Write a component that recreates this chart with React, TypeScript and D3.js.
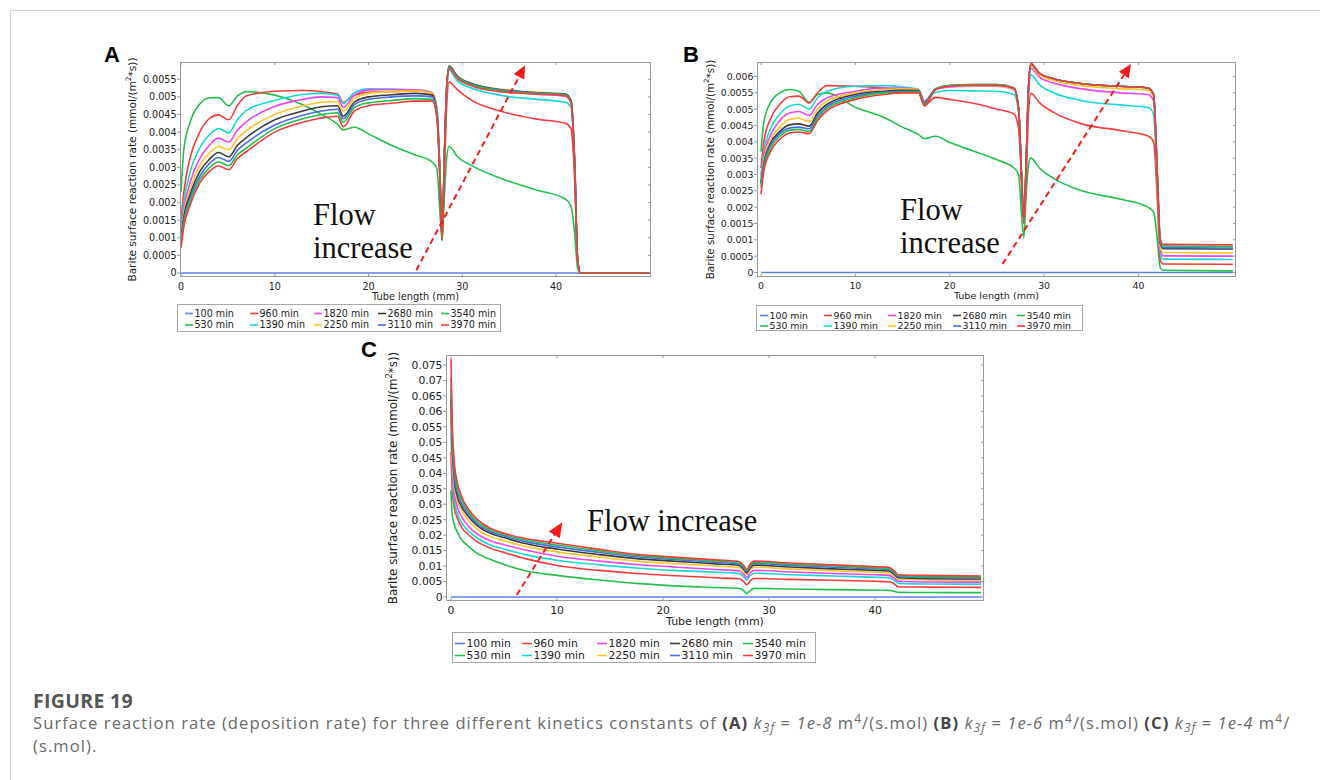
import React from 'react';
import * as d3 from 'd3';

// ---------- DATA (rates in units of 1e-3 mmol/(m^2*s)) ----------
const TIMES = ['100 min', '530 min', '960 min', '1390 min', '1820 min', '2250 min', '2680 min', '3110 min', '3540 min', '3970 min'];
const COLORS = ['#5b80e8', '#22bf4c', '#f23c3c', '#19d6d6', '#ee45ee', '#ffc42a', '#3c3c3c', '#476ce8', '#22bf4c', '#f23c3c'];

const X_AB = [0, 0.3, 1, 2, 3, 4, 5.1, 6, 7, 10, 13, 15, 16.7, 17.3, 18.5, 20, 22.5, 25, 26.8, 27.3, 27.6, 27.85, 28.1, 28.35, 28.6, 29.5, 31, 34, 38, 41, 41.6, 42, 42.3, 42.6, 50];

const A_100 = [0, 0, 0, 0, 0, 0, 0, 0, 0, 0, 0, 0, 0, 0, 0, 0, 0, 0, 0, 0, 0, 0, 0, 0, 0, 0, 0, 0, 0, 0, 0, 0, 0, 0, 0];
const A_530 = [2.3, 3.5, 4.3, 4.8, 4.97, 4.98, 4.75, 5.02, 5.15, 5.05, 4.78, 4.5, 4.22, 4.06, 4.14, 3.95, 3.62, 3.35, 3.15, 2.95, 1.8, 0.92, 2.2, 3.3, 3.6, 3.3, 3.05, 2.7, 2.35, 2.1, 1.9, 1.1, 0.15, 0, 0];
const A_960 = [1.5, 2.3, 3.3, 4.0, 4.38, 4.49, 4.35, 4.75, 5.03, 5.16, 5.18, 5.15, 5.08, 4.85, 5.05, 5.13, 5.15, 5.17, 5.1, 4.6, 3.0, 1.2, 2.8, 4.8, 5.42, 5.2, 4.9, 4.6, 4.37, 4.25, 4.1, 2.6, 0.4, 0, 0];
const A_1390 = [1.3, 2.0, 2.9, 3.55, 3.92, 4.1, 3.98, 4.35, 4.62, 4.9, 5.07, 5.1, 5.05, 4.82, 5.12, 5.23, 5.22, 5.2, 5.12, 4.65, 3.0, 1.0, 3.2, 5.2, 5.75, 5.45, 5.25, 5.05, 4.93, 4.85, 4.7, 3.0, 0.4, 0, 0];
const A_1820 = [1.2, 1.8, 2.6, 3.25, 3.62, 3.83, 3.72, 4.05, 4.3, 4.73, 4.93, 5.0, 4.98, 4.7, 5.05, 5.2, 5.21, 5.2, 5.12, 4.65, 3.0, 1.0, 3.3, 5.3, 5.8, 5.55, 5.35, 5.18, 5.08, 5.02, 4.85, 3.1, 0.4, 0, 0];
const A_2250 = [1.1, 1.7, 2.4, 3.05, 3.4, 3.59, 3.5, 3.82, 4.05, 4.5, 4.75, 4.85, 4.87, 4.6, 4.95, 5.1, 5.15, 5.17, 5.1, 4.6, 3.0, 1.0, 3.4, 5.35, 5.88, 5.6, 5.38, 5.22, 5.13, 5.08, 4.9, 3.1, 0.4, 0, 0];
const A_2680 = [1.0, 1.6, 2.25, 2.88, 3.22, 3.42, 3.3, 3.62, 3.85, 4.35, 4.6, 4.72, 4.75, 4.45, 4.85, 5.0, 5.06, 5.1, 5.05, 4.55, 2.9, 0.95, 3.4, 5.35, 5.87, 5.58, 5.38, 5.21, 5.12, 5.08, 4.9, 3.1, 0.4, 0, 0];
const A_3110 = [0.92, 1.5, 2.15, 2.75, 3.1, 3.28, 3.17, 3.48, 3.7, 4.2, 4.48, 4.6, 4.65, 4.38, 4.78, 4.93, 5.0, 5.03, 5.0, 4.5, 2.9, 0.95, 3.4, 5.33, 5.85, 5.57, 5.37, 5.2, 5.11, 5.07, 4.88, 3.1, 0.4, 0, 0];
const A_3540 = [0.85, 1.4, 2.05, 2.65, 2.98, 3.15, 3.05, 3.35, 3.55, 4.1, 4.38, 4.5, 4.55, 4.28, 4.7, 4.83, 4.9, 4.95, 4.93, 4.45, 2.85, 0.95, 3.35, 5.3, 5.83, 5.55, 5.35, 5.18, 5.1, 5.05, 4.86, 3.05, 0.4, 0, 0];
const A_3970 = [0.72, 1.3, 1.95, 2.55, 2.88, 3.04, 2.93, 3.25, 3.45, 4.0, 4.28, 4.4, 4.45, 4.15, 4.6, 4.75, 4.82, 4.88, 4.88, 4.4, 2.8, 0.95, 3.3, 5.25, 5.8, 5.52, 5.32, 5.15, 5.08, 5.03, 4.84, 3.0, 0.4, 0, 0];

const B_100 = [0, 0, 0, 0, 0, 0, 0, 0, 0, 0, 0, 0, 0, 0, 0, 0, 0, 0, 0, 0, 0, 0, 0, 0, 0, 0, 0, 0, 0, 0, 0, 0, 0, 0, 0];
const B_530 = [3.7, 4.6, 5.2, 5.5, 5.6, 5.55, 5.21, 5.45, 5.5, 5.06, 4.75, 4.45, 4.22, 4.1, 4.17, 3.98, 3.72, 3.45, 3.2, 3.0, 1.8, 1.06, 2.4, 3.3, 3.5, 3.2, 2.88, 2.5, 2.25, 2.0, 1.85, 1.0, 0.15, 0.07, 0.05];
const B_960 = [3.2, 4.0, 4.7, 5.15, 5.38, 5.4, 5.19, 5.5, 5.72, 5.7, 5.65, 5.58, 5.5, 5.12, 5.36, 5.3, 5.18, 5.0, 4.85, 4.4, 2.8, 1.5, 2.8, 4.9, 5.48, 5.2, 4.9, 4.55, 4.35, 4.18, 4.0, 2.2, 0.4, 0.26, 0.25];
const B_1390 = [3.0, 3.7, 4.4, 4.85, 5.1, 5.15, 5.0, 5.35, 5.55, 5.7, 5.72, 5.68, 5.6, 5.25, 5.52, 5.57, 5.56, 5.55, 5.45, 4.9, 3.0, 1.6, 3.2, 5.4, 6.05, 5.75, 5.5, 5.26, 5.13, 5.05, 4.85, 2.6, 0.6, 0.41, 0.4];
const B_1820 = [2.9, 3.55, 4.2, 4.65, 4.88, 4.93, 4.81, 5.15, 5.35, 5.55, 5.65, 5.65, 5.6, 5.25, 5.6, 5.68, 5.7, 5.7, 5.6, 5.0, 3.0, 1.6, 3.3, 5.6, 6.25, 5.98, 5.8, 5.62, 5.5, 5.45, 5.25, 2.8, 0.7, 0.51, 0.5];
const B_2250 = [2.8, 3.45, 4.05, 4.45, 4.68, 4.72, 4.62, 5.0, 5.25, 5.5, 5.6, 5.62, 5.6, 5.22, 5.62, 5.7, 5.72, 5.72, 5.62, 5.0, 3.0, 1.6, 3.35, 5.65, 6.32, 6.05, 5.88, 5.72, 5.63, 5.58, 5.38, 2.9, 0.8, 0.61, 0.6];
const B_2680 = [2.75, 3.35, 3.95, 4.32, 4.52, 4.55, 4.48, 4.88, 5.15, 5.45, 5.55, 5.58, 5.57, 5.2, 5.62, 5.72, 5.74, 5.74, 5.65, 5.0, 3.0, 1.6, 3.4, 5.7, 6.38, 6.1, 5.93, 5.78, 5.7, 5.65, 5.45, 2.95, 0.9, 0.73, 0.72];
const B_3110 = [2.7, 3.3, 3.88, 4.25, 4.42, 4.45, 4.4, 4.8, 5.08, 5.4, 5.52, 5.55, 5.55, 5.18, 5.62, 5.72, 5.75, 5.75, 5.65, 5.0, 3.0, 1.6, 3.4, 5.7, 6.38, 6.1, 5.93, 5.78, 5.7, 5.65, 5.45, 2.95, 0.95, 0.76, 0.75];
const B_3540 = [2.6, 3.2, 3.8, 4.17, 4.35, 4.38, 4.32, 4.72, 5.02, 5.35, 5.5, 5.52, 5.53, 5.15, 5.62, 5.72, 5.75, 5.75, 5.65, 5.0, 3.0, 1.6, 3.4, 5.7, 6.38, 6.1, 5.93, 5.78, 5.7, 5.65, 5.45, 2.95, 1.0, 0.81, 0.8];
const B_3970 = [2.4, 3.1, 3.7, 4.08, 4.27, 4.3, 4.25, 4.65, 4.95, 5.3, 5.45, 5.5, 5.5, 5.1, 5.6, 5.7, 5.73, 5.73, 5.65, 5.0, 3.0, 1.6, 3.4, 5.7, 6.4, 6.1, 5.93, 5.78, 5.7, 5.65, 5.45, 2.95, 1.05, 0.86, 0.85];

const X_C = [0, 0.1, 0.3, 0.6, 1, 1.6, 2.5, 3.7, 5, 7, 10, 14, 17.5, 21, 25, 27.2, 27.6, 27.9, 28.2, 28.6, 32, 36, 40, 41.3, 41.8, 42.2, 45, 50];
const C_100 = [0, 0, 0, 0, 0, 0, 0, 0, 0, 0, 0, 0, 0, 0, 0, 0, 0, 0, 0, 0, 0, 0, 0, 0, 0, 0, 0, 0];
const C_530 = [34.5, 27, 23.5, 21, 18.5, 16.5, 14, 12.2, 10.5, 8.5, 7.0, 5.5, 4.4, 3.6, 3.05, 2.75, 2.1, 1.1, 2.0, 2.8, 2.6, 2.4, 2.2, 2.15, 1.85, 1.5, 1.45, 1.4];
const C_960 = [47, 36, 29, 25.5, 22.5, 20.3, 17.8, 15.8, 14.4, 12.4, 10.2, 8.6, 7.6, 6.9, 6.2, 5.9, 5.0, 4.0, 5.1, 6.0, 5.7, 5.4, 5.1, 4.95, 4.3, 3.3, 3.2, 3.1];
const C_1390 = [55, 41, 31.5, 27, 24, 21.5, 19, 16.8, 15.5, 13.7, 11.9, 10.4, 9.4, 8.6, 8.0, 7.55, 6.6, 5.5, 6.8, 7.7, 7.2, 6.8, 6.4, 6.2, 5.5, 4.4, 4.2, 4.15];
const C_1820 = [58, 44, 34, 29, 26, 23, 20.3, 18.2, 16.9, 15.2, 13.2, 11.6, 10.5, 9.7, 8.9, 8.4, 7.4, 6.3, 7.7, 8.6, 8.1, 7.6, 7.2, 7.0, 6.2, 5.1, 4.85, 4.8];
const C_2250 = [61, 47, 36.5, 31, 28, 25, 21.8, 19.6, 18.2, 16.4, 14.6, 12.9, 11.6, 10.8, 10.0, 9.5, 8.4, 7.2, 8.7, 9.6, 9.1, 8.5, 8.0, 7.8, 6.9, 5.8, 5.5, 5.4];
const C_2680 = [64, 50, 38.5, 32.5, 29.2, 26.2, 23, 20.6, 19.2, 17.3, 15.5, 13.7, 12.4, 11.6, 10.7, 10.2, 9.0, 7.8, 9.3, 10.3, 9.7, 9.1, 8.6, 8.4, 7.4, 6.2, 5.9, 5.8];
const C_3110 = [67, 52, 40, 34, 30.3, 27, 23.6, 21.2, 19.7, 17.9, 16.2, 14.4, 13.0, 12.1, 11.2, 10.6, 9.4, 8.2, 9.8, 10.8, 10.2, 9.6, 9.1, 8.9, 7.8, 6.6, 6.3, 6.2];
const C_3540 = [71, 55, 42, 35.5, 31.5, 27.8, 24.3, 21.7, 20.2, 18.4, 16.8, 14.9, 13.4, 12.5, 11.6, 11.0, 9.8, 8.6, 10.1, 11.2, 10.6, 10.0, 9.4, 9.2, 8.1, 6.9, 6.6, 6.5];
const C_3970 = [77, 58, 44, 37, 32.5, 28.6, 25, 22.2, 20.6, 18.9, 17.4, 15.4, 13.8, 12.9, 12.0, 11.4, 10.2, 8.9, 10.5, 11.6, 11.0, 10.4, 9.8, 9.6, 8.5, 7.2, 7.0, 6.8];

const X_TICKS = [0, 10, 20, 30, 40];
const A_YTICKS = [0, 0.5, 1, 1.5, 2, 2.5, 3, 3.5, 4, 4.5, 5, 5.5];
const A_YLABELS = ['0', '0.0005', '0.001', '0.0015', '0.002', '0.0025', '0.003', '0.0035', '0.004', '0.0045', '0.005', '0.0055'];
const B_YTICKS = [0, 0.5, 1, 1.5, 2, 2.5, 3, 3.5, 4, 4.5, 5, 5.5, 6];
const B_YLABELS = ['0', '0.0005', '0.001', '0.0015', '0.002', '0.0025', '0.003', '0.0035', '0.004', '0.0045', '0.005', '0.0055', '0.006'];
const C_YTICKS = [0, 5, 10, 15, 20, 25, 30, 35, 40, 45, 50, 55, 60, 65, 70, 75];
const C_YLABELS = ['0', '0.005', '0.01', '0.015', '0.02', '0.025', '0.03', '0.035', '0.04', '0.045', '0.05', '0.055', '0.06', '0.065', '0.07', '0.075'];

// arrows in data coordinates: [x0, y0, x1, y1]
const A_ARROW = [25.1, 0.08, 36.7, 5.9];
const B_ARROW = [25.6, 0.26, 39.2, 6.38];
const C_ARROW = [6.2, 0.65, 10.5, 24.2];

const FONT = '"DejaVu Sans", Verdana, sans-serif';
const SERIF = '"Liberation Serif", "Times New Roman", serif';

type Cfg = {
  id: string;
  x: number[];
  series: number[][];
  box: [number, number, number, number];
  xPx: [number, number];
  yPx: [number, number, number];
  yTicks: number[];
  yLabels: string[];
  fs: number;
  ylabelX: number;
  xLabelY: number;
  xTitleY: number;
  legendBox: [number, number, number, number];
  legendCols: number[];
  legendRows: number[];
  seg: number;
  letter: string;
  letterPos: [number, number];
  flow: { text: string; x: number; y: number }[];
  arrow: number[];
  head: [number, number];
};

function Panel({ c }: { c: Cfg }) {
  const [L, T, R, Bt] = c.box;
  const xs = d3.scaleLinear().domain([0, 40]).range(c.xPx);
  const ys = d3.scaleLinear().domain([0, c.yPx[1]]).range([c.yPx[0], c.yPx[2]]);
  const line = d3
    .line<number>()
    .x((_, i) => xs(c.x[i]))
    .y((d) => ys(d))
    .curve(d3.curveMonotoneX);
  const axisColor = '#9a9a9a';
  const [ax0, ay0, ax1, ay1] = c.arrow;
  const p0 = [xs(ax0), ys(ay0)];
  const p1 = [xs(ax1), ys(ay1)];
  const ang = Math.atan2(p1[1] - p0[1], p1[0] - p0[0]);
  const [hl, hw] = c.head;
  const base = [p1[0] - hl * Math.cos(ang), p1[1] - hl * Math.sin(ang)];
  const nx = -Math.sin(ang), ny = Math.cos(ang);
  const tri = `M${p1[0]},${p1[1]} L${base[0] + nx * hw / 2},${base[1] + ny * hw / 2} L${base[0] - nx * hw / 2},${base[1] - ny * hw / 2} Z`;
  const fs = c.fs;
  const lfs = fs * 1.1;
  const cy = (T + Bt) / 2;
  return (
    <g fontFamily={FONT}>
      <defs>
        <clipPath id={`clip-${c.id}`}>
          <rect x={L} y={T} width={R - L} height={Bt - T} />
        </clipPath>
      </defs>
      <rect x={L} y={T} width={R - L} height={Bt - T} fill="#fff" stroke="none" />
      <g clipPath={`url(#clip-${c.id})`} fill="none" strokeWidth={1.6} strokeLinejoin="round">
        {c.series.map((s, i) => (
          <path key={i} d={line(s) || ''} stroke={COLORS[i]} />
        ))}
      </g>
      <rect x={L + 0.5} y={T + 0.5} width={R - L - 1} height={Bt - T - 1} fill="none" stroke={axisColor} strokeWidth={1} />
      {c.yTicks.map((t, i) => (
        <g key={'y' + i}>
          <line x1={L - 3} x2={L} y1={ys(t)} y2={ys(t)} stroke={axisColor} />
          <line x1={R - 3} x2={R} y1={ys(t)} y2={ys(t)} stroke={axisColor} />
          <text x={L - 3.5} y={ys(t) + fs * 0.36} textAnchor="end" fontSize={fs} fill="#222">
            {c.yLabels[i]}
          </text>
        </g>
      ))}
      {X_TICKS.map((t) => (
        <g key={'x' + t}>
          <line x1={xs(t)} x2={xs(t)} y1={Bt - 3} y2={Bt} stroke={axisColor} />
          <line x1={xs(t)} x2={xs(t)} y1={T} y2={T + 3} stroke={axisColor} />
          <text x={xs(t)} y={c.xLabelY} textAnchor="middle" fontSize={fs} fill="#222">
            {t}
          </text>
        </g>
      ))}
      <text x={(L + R) / 2} y={c.xTitleY} textAnchor="middle" fontSize={fs * 1.02} fill="#222">
        Tube length (mm)
      </text>
      <text transform={`translate(${c.ylabelX},${cy}) rotate(-90)`} textAnchor="middle" fontSize={lfs} fill="#222" dominantBaseline="central">
        Barite surface reaction rate (mmol/(m
        <tspan fontSize={lfs * 0.7} dy={-lfs * 0.38}>2</tspan>
        <tspan dy={lfs * 0.38}>*s))</tspan>
      </text>
      {c.flow.map((f, i) => (
        <text key={'f' + i} x={f.x} y={f.y} fontFamily={SERIF} fontSize={30.5} fill="#111">
          {f.text}
        </text>
      ))}
      <line x1={p0[0]} y1={p0[1]} x2={base[0]} y2={base[1]} stroke="#f01c1c" strokeWidth={2} strokeDasharray="6,4" />
      <path d={tri} fill="#f01c1c" />
      <rect
        x={c.legendBox[0] + 0.5}
        y={c.legendBox[1] + 0.5}
        width={c.legendBox[2] - c.legendBox[0]}
        height={c.legendBox[3] - c.legendBox[1]}
        fill="#fff"
        stroke="#a8a8a8"
      />
      {TIMES.map((name, i) => {
        const col = Math.floor(i / 2);
        const row = i % 2;
        const lx = c.legendCols[col];
        const ly = c.legendRows[row];
        return (
          <g key={'l' + i}>
            <line x1={lx} x2={lx + c.seg} y1={ly} y2={ly} stroke={COLORS[i]} strokeWidth={1.6} />
            <text x={lx + c.seg + 1.5} y={ly + fs * 0.36} fontSize={fs} fill="#222">
              {name}
            </text>
          </g>
        );
      })}
      <text x={c.letterPos[0]} y={c.letterPos[1]} fontFamily='"Liberation Sans", Arial, sans-serif' fontWeight="bold" fontSize={22} fill="#000">
        {c.letter}
      </text>
    </g>
  );
}

const PANEL_A: Cfg = {
  id: 'a',
  x: X_AB,
  series: [A_100, A_530, A_960, A_1390, A_1820, A_2250, A_2680, A_3110, A_3540, A_3970],
  box: [180, 62, 651, 277],
  xPx: [181, 556],
  yPx: [273, 5.5, 79.3],
  yTicks: A_YTICKS,
  yLabels: A_YLABELS,
  fs: 9.6,
  ylabelX: 132,
  xLabelY: 290,
  xTitleY: 299.5,
  legendBox: [177, 304, 500, 331],
  legendCols: [185, 250, 314, 378, 441],
  legendRows: [313.5, 325],
  seg: 8,
  letter: 'A',
  letterPos: [104, 62],
  flow: [
    { text: 'Flow', x: 313, y: 225 },
    { text: 'increase', x: 313, y: 258 },
  ],
  arrow: A_ARROW,
  head: [13, 12],
};

const PANEL_B: Cfg = {
  id: 'b',
  x: X_AB,
  series: [B_100, B_530, B_960, B_1390, B_1820, B_2250, B_2680, B_3110, B_3540, B_3970],
  box: [757, 62, 1236, 277],
  xPx: [761, 1138.5],
  yPx: [272.5, 6, 76.5],
  yTicks: B_YTICKS,
  yLabels: B_YLABELS,
  fs: 9.4,
  ylabelX: 710,
  xLabelY: 289,
  xTitleY: 299,
  legendBox: [756, 305, 1082, 330],
  legendCols: [760, 824, 888, 953, 1017],
  legendRows: [315.5, 326],
  seg: 8,
  letter: 'B',
  letterPos: [683, 62],
  flow: [
    { text: 'Flow', x: 900, y: 220 },
    { text: 'increase', x: 900, y: 253 },
  ],
  arrow: B_ARROW,
  head: [13, 12],
};

const PANEL_C: Cfg = {
  id: 'c',
  x: X_C,
  series: [C_100, C_530, C_960, C_1390, C_1820, C_2250, C_2680, C_3110, C_3540, C_3970],
  box: [446, 355, 984, 601],
  xPx: [451, 875],
  yPx: [597, 75, 365],
  yTicks: C_YTICKS,
  yLabels: C_YLABELS,
  fs: 10.8,
  ylabelX: 393,
  xLabelY: 614,
  xTitleY: 625,
  legendBox: [452, 632, 815, 662],
  legendCols: [455, 522, 597, 670, 743],
  legendRows: [643.5, 655.5],
  seg: 10,
  letter: 'C',
  letterPos: [361, 357],
  flow: [{ text: 'Flow increase', x: 587, y: 531 }],
  arrow: C_ARROW,
  head: [15, 13],
};

function Caption() {
  const f = '"Open Sans", "Noto Sans", sans-serif';
  const col = '#6a6a6a';
  const dark = '#444';
  const FS = 16.6;
  const LS = 1.05;
  const sub = (t: string) => (
    <>
      <tspan fontStyle="italic">k</tspan>
      <tspan fontStyle="italic" fontSize={FS * 0.72} dy={3.5}>{t}</tspan>
      <tspan dy={-3.5}> = </tspan>
    </>
  );
  const sup = (
    <>
      <tspan fontSize={FS * 0.72} dy={-5.5}>4</tspan>
      <tspan dy={5.5}>/</tspan>
    </>
  );
  return (
    <g fontFamily={f}>
      <text x={33} y={708} fontSize={19.5} fontWeight="bold" fill="#555" letterSpacing={0.3}>
        FIGURE 19
      </text>
      <text x={33} y={728.5} fontSize={FS} fill={col} letterSpacing={LS}>
        Surface reaction rate (deposition rate) for three different kinetics constants of{' '}
        <tspan fontWeight="bold" fill={dark}>(A)</tspan> {sub('3f')}
        <tspan fontStyle="italic">1e-8</tspan> m{sup}(s.mol){' '}
        <tspan fontWeight="bold" fill={dark}>(B)</tspan> {sub('3f')}
        <tspan fontStyle="italic">1e-6</tspan> m{sup}(s.mol){' '}
        <tspan fontWeight="bold" fill={dark}>(C)</tspan> {sub('3f')}
        <tspan fontStyle="italic">1e-4</tspan> m{sup}
      </text>
      <text x={33} y={751.5} fontSize={FS} fill={col} letterSpacing={LS}>
        (s.mol).
      </text>
    </g>
  );
}

export default function App() {
  return (
    <div style={{ position: 'absolute', left: 0, top: 0 }}>
      <svg width={1320} height={780} viewBox="0 0 1320 780" style={{ display: 'block', background: '#fff' }}>
        <line x1={10} y1={10.5} x2={1320} y2={10.5} stroke="#d4d4d4" />
        <line x1={10.5} y1={10} x2={10.5} y2={780} stroke="#d4d4d4" />
        <Panel c={PANEL_A} />
        <Panel c={PANEL_B} />
        <Panel c={PANEL_C} />
        <Caption />
      </svg>
    </div>
  );
}
